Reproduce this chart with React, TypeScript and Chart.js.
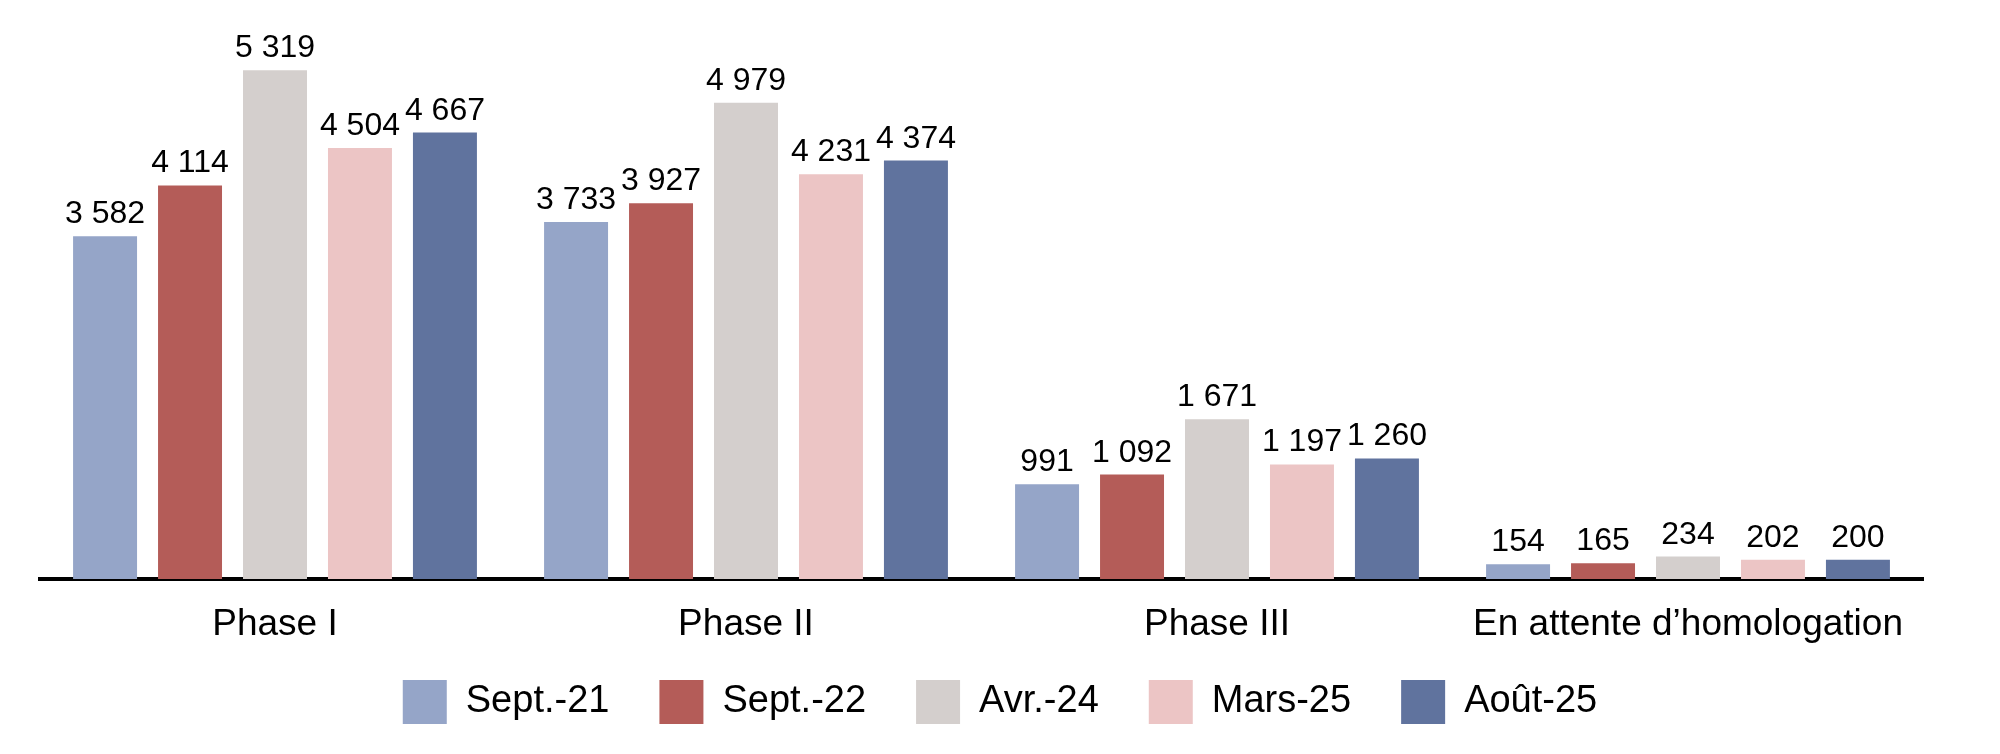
import React, { useEffect, useRef } from 'react';
import { Chart, ChartConfiguration, Plugin, registerables } from 'chart.js';

Chart.register(...registerables);

// Categories and series
const categories = ['Phase I', 'Phase II', 'Phase III', 'En attente d\u2019homologation'];
const seriesLabels = ['Sept.-21', 'Sept.-22', 'Avr.-24', 'Mars-25', 'Août-25'];
const sept21 = [3582, 3733, 991, 154];
const sept22 = [4114, 3927, 1092, 165];
const avr24 = [5319, 4979, 1671, 234];
const mars25 = [4504, 4231, 1197, 202];
const aout25 = [4667, 4374, 1260, 200];
const seriesColors = ['#95A5C8', '#B45C58', '#D4CFCD', '#ECC5C5', '#60739E'];

const formatValue = (v: number) => String(v).replace(/\B(?=(\d{3})+(?!\d))/g, ' ');

// draws the value above each bar
const valueLabels: Plugin<'bar'> = {
  id: 'valueLabels',
  afterDatasetsDraw(chart) {
    const ctx = chart.ctx;
    ctx.save();
    ctx.font = "32px 'Liberation Sans', Arial, sans-serif";
    ctx.fillStyle = '#000';
    ctx.textAlign = 'center';
    ctx.textBaseline = 'alphabetic';
    chart.data.datasets.forEach((ds, i) => {
      const meta = chart.getDatasetMeta(i);
      meta.data.forEach((bar: any, j) => {
        ctx.fillText(formatValue(ds.data[j] as number), bar.x, bar.y - 13);
      });
    });
    ctx.restore();
  },
};

// x axis is kept short so the legend sits close; let its labels draw below it unclipped
const unclipXLabels: Plugin<'bar'> = {
  id: 'unclipXLabels',
  afterLayout(chart) {
    const x = chart.scales.x;
    if (x) x.bottom = chart.height;
  },
};

const App: React.FC = () => {
  const canvasRef = useRef<HTMLCanvasElement>(null);
  const chartInstance = useRef<Chart | null>(null);

  useEffect(() => {
    if (!canvasRef.current) return;
    const ctx = canvasRef.current.getContext('2d');
    if (!ctx) return;

    Chart.defaults.font.family = "'Liberation Sans', Arial, sans-serif";
    Chart.defaults.color = '#000';

    const allSeries = [sept21, sept22, avr24, mars25, aout25];

    const config: ChartConfiguration<'bar'> = {
      type: 'bar',
      data: {
        labels: categories,
        datasets: allSeries.map((values, i) => ({
          label: seriesLabels[i],
          data: values,
          backgroundColor: seriesColors[i],
          borderWidth: 0,
          categoryPercentage: 0.902,
          barPercentage: 0.753,
        })),
      },
      options: {
        responsive: true,
        maintainAspectRatio: false,
        animation: false,
        layout: {
          padding: { top: 5, bottom: 20, left: 0, right: 0 },
        },
        plugins: {
          legend: {
            position: 'bottom',
            labels: {
              boxWidth: 44,
              boxHeight: 44,
              padding: 50,
              color: '#000',
              font: { size: 38 },
            },
          },
          tooltip: { enabled: false },
        },
        scales: {
          x: {
            grid: { display: false, drawTicks: false },
            border: { display: true, color: '#000', width: 4 },
            ticks: { padding: 24, color: '#000', font: { size: 37 } },
            afterFit: (scale) => {
              scale.height = 51;
            },
          },
          y: {
            min: 0,
            max: 6000,
            grid: { display: false, drawTicks: false },
            border: { display: false },
            ticks: { display: false },
            afterFit: (scale) => {
              scale.width = 39.5;
            },
          },
          yRight: {
            type: 'linear',
            position: 'right',
            grid: { display: false, drawTicks: false },
            border: { display: false },
            ticks: { display: false },
            afterFit: (scale) => {
              scale.width = 76.5;
            },
          },
        },
      },
      plugins: [valueLabels, unclipXLabels],
    };

    chartInstance.current = new Chart(ctx, config);

    return () => {
      if (chartInstance.current) {
        chartInstance.current.destroy();
        chartInstance.current = null;
      }
    };
  }, []);

  return (
    <div style={{ position: 'absolute', left: 0, top: 0, width: 2000, height: 754, background: '#fff' }}>
      <canvas ref={canvasRef} />
    </div>
  );
};

export default App;
